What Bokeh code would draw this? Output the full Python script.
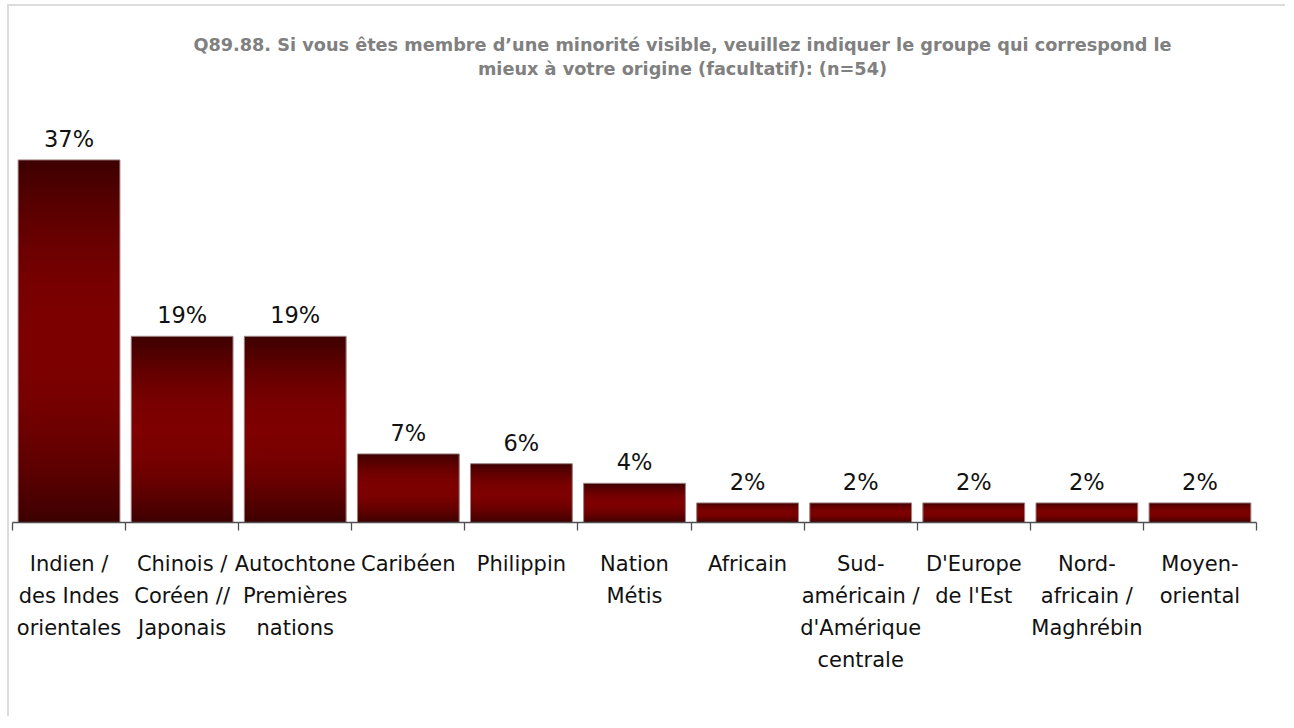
import numpy as np
from bokeh.plotting import figure
from bokeh.models import (Range1d, LinearAxis, FixedTicker, ColumnDataSource, LabelSet, Label)
from bokeh.embed import file_html
from bokeh.resources import INLINE
from bokeh.core.properties import value

# ---------------- data ----------------
categories = [
    "Indien /\ndes Indes\norientales",
    "Chinois /\nCoréen //\nJaponais",
    "Autochtone\nPremières\nnations",
    "Caribéen",
    "Philippin",
    "Nation\nMétis",
    "Africain",
    "Sud-\naméricain /\nd'Amérique\ncentrale",
    "D'Europe\nde l'Est",
    "Nord-\nafricain /\nMaghrébin",
    "Moyen-\noriental",
]
values = [37, 19, 19, 7, 6, 4, 2, 2, 2, 2, 2]
value_labels = [f"{v}%" for v in values]
title_lines = [
    "Q89.88. Si vous êtes membre d’une minorité visible, veuillez indiquer le groupe qui correspond le",
    "mieux à votre origine (facultatif): (n=54)",
]

# ---------------- layout ----------------
W, H = 1278, 712
FRAME_LEFT, FRAME_RIGHT = 3, 1247
FRAME_TOP, FRAME_BOTTOM = 0, 516
PX_PER_UNIT = 9.8
y_end = (FRAME_BOTTOM - FRAME_TOP) / PX_PER_UNIT
n = len(categories)
centers = [i + 0.5 for i in range(n)]

p = figure(
    width=W, height=H,
    x_range=Range1d(0, n),
    y_range=Range1d(0, y_end),
    output_backend="svg", toolbar_location=None,
    x_axis_location=None, y_axis_location=None,
    min_border_left=FRAME_LEFT, min_border_right=W - FRAME_RIGHT,
    min_border_top=FRAME_TOP, min_border_bottom=H - FRAME_BOTTOM,
)
p.outline_line_color = None
p.grid.visible = False
p.background_fill_color = "white"
p.border_fill_color = "white"
p.styles = {"margin-left": "7px", "margin-top": "4px",
            "border-left": "2px solid #dcdcdc", "border-top": "2px solid #dcdcdc"}

# gradient bars built from overlapping slices (about 2 px each) of each bar
dark = np.array([60, 0, 0])
bright = np.array([126, 0, 0])
sx, sb, st, sc = [], [], [], []
for xc, v in zip(centers, values):
    N = max(6, int(round(v * PX_PER_UNIT / 2)))
    for k in range(N):
        t = (k + 0.5) / N
        w = np.sin(np.pi * t) ** 0.9
        col = dark + (bright - dark) * w
        sx.append(xc)
        sb.append(v * k / N)
        st.append(min(v, v * (k + 1.7) / N))
        sc.append("#%02x%02x%02x" % tuple(int(round(z)) for z in col))
p.vbar(x=sx, bottom=sb, top=st, width=0.9, fill_color=sc, line_color=None)
p.vbar(x=centers, top=values, width=0.9, fill_color=None,
       line_color="#a08585", line_width=1)

# value labels
src = ColumnDataSource(dict(x=centers, y=values, t=value_labels))
p.add_layout(LabelSet(x="x", y="y", text="t", source=src, y_offset=8,
                      text_align="center", text_baseline="bottom",
                      text_font=value("DejaVu Sans"), text_font_size="22.5px",
                      text_color="#111111"))

# title
title_y_px = [38, 62]
for line, ypx in zip(title_lines, title_y_px):
    p.add_layout(Label(x=n / 2, y=(FRAME_BOTTOM - ypx) / PX_PER_UNIT, x_offset=48,
                       text=line, text_align="center", text_baseline="middle",
                       text_font="DejaVu Sans", text_font_style="bold",
                       text_font_size="17.7px", text_color="#808080"))

# axis with ticks at category boundaries
tick_axis = LinearAxis(ticker=FixedTicker(ticks=list(range(n + 1))),
                       major_label_text_font_size="1px", major_label_text_alpha=0,
                       major_label_standoff=0,
                       axis_line_color="#505050", axis_line_width=1.3,
                       major_tick_line_color="#505050", major_tick_line_width=1.3,
                       major_tick_out=8, major_tick_in=0,
                       minor_tick_line_color=None)
p.add_layout(tick_axis, "below")

# category labels at bar centres
overrides = {}
for xc, c in zip(centers, categories):
    overrides[xc] = c
    overrides[str(xc)] = c
cat_axis = LinearAxis(ticker=FixedTicker(ticks=centers),
                      major_label_overrides=overrides,
                      axis_line_color=None, major_tick_line_color=None,
                      minor_tick_line_color=None, major_tick_out=0, major_tick_in=0,
                      major_label_standoff=21,
                      major_label_text_font="DejaVu Sans",
                      major_label_text_font_size="21px",
                      major_label_text_color="#111111",
                      major_label_text_line_height=1.34)
p.add_layout(cat_axis, "below")

open("out.html", "w").write(file_html(p, INLINE))
